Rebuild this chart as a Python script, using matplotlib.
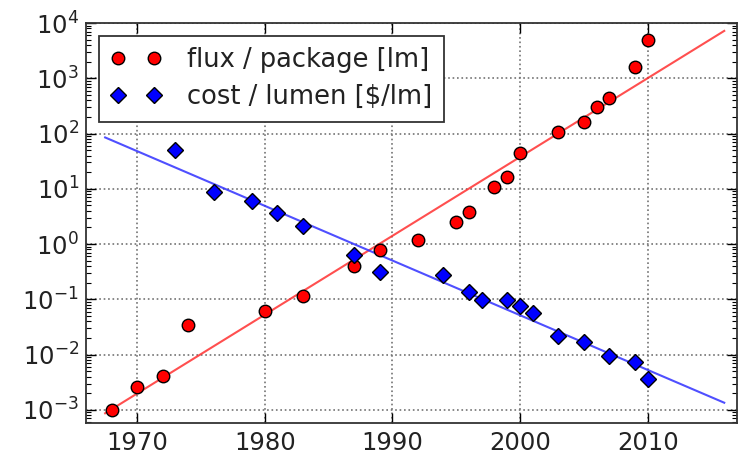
import matplotlib
matplotlib.use("Agg")
import matplotlib.pyplot as plt
import numpy as np

flux_years = [1968, 1970, 1972, 1974, 1980, 1983, 1987, 1989, 1992, 1995, 1996,
              1998, 1999, 2000, 2003, 2005, 2006, 2007, 2009, 2010]
flux_vals = [1.0e-3, 2.6e-3, 4.1e-3, 0.034, 0.062, 0.115, 0.40, 0.78, 1.18, 2.5, 3.8,
             10.6, 16.5, 44, 106, 165, 297, 435, 1620, 5000]

cost_years = [1973, 1976, 1979, 1981, 1983, 1987, 1989, 1994, 1996, 1997, 1999,
              2000, 2001, 2003, 2005, 2007, 2009, 2010]
cost_vals = [50, 8.8, 6.0, 3.6, 2.1, 0.63, 0.31, 0.275, 0.137, 0.097, 0.097,
             0.076, 0.057, 0.0217, 0.0167, 0.0094, 0.0074, 0.0037]

flux_fit_years = [1967.5, 2016]
flux_fit_vals = [8.7e-4, 7.2e3]
cost_fit_years = [1967.5, 2016]
cost_fit_vals = [85, 1.35e-3]

plt.rcParams['font.family'] = ['DejaVu Sans']
fig = plt.figure(figsize=(7.46, 4.55), dpi=100)
ax = fig.add_axes([86/746, 1-423/455, (737-86)/746, (423-23)/455])

ax.plot(flux_fit_years, flux_fit_vals, color='#ff3030', alpha=0.85, lw=1.5, zorder=2)
ax.plot(cost_fit_years, cost_fit_vals, color='#3030ff', alpha=0.85, lw=1.5, zorder=2)
ax.plot(flux_years, flux_vals, 'o', color='red', mec='black', mew=1, ms=9,
        label='flux / package [lm]', zorder=3)
ax.plot(cost_years, cost_vals, 'D', color='blue', mec='black', mew=1, ms=8.5,
        label='cost / lumen [$/lm]', zorder=3)

ax.set_yscale('log')
ax.set_xlim(1966, 2017)
ax.set_ylim(5.8e-4, 1e4)
ax.set_xticks([1970, 1980, 1990, 2000, 2010])
ax.set_yticks([10.0**k for k in range(-3, 5)])
ax.grid(True, which='major', color='0.45', linestyle=':', lw=1.2)
ax.tick_params(which='both', direction='in', top=True, right=True, labelsize=17.5,
               colors='black', labelcolor='#222222')
ax.tick_params(which='major', length=7, width=1)
ax.tick_params(which='minor', length=3.5, width=0.8)
ax.tick_params(axis='x', pad=6)
ax.tick_params(axis='y', pad=5)
for s in ax.spines.values():
    s.set_color('#333333')
    s.set_linewidth(1.3)

leg = ax.legend(loc='upper left', numpoints=2, fontsize=18.5, fancybox=False,
                framealpha=1, edgecolor='#333333', borderaxespad=0.5,
                handletextpad=1.0, borderpad=0.45, labelspacing=0.42)
leg.get_frame().set_linewidth(1.3)
for t in leg.get_texts():
    t.set_color('#222222')

fig.savefig('out.png', dpi=100)
